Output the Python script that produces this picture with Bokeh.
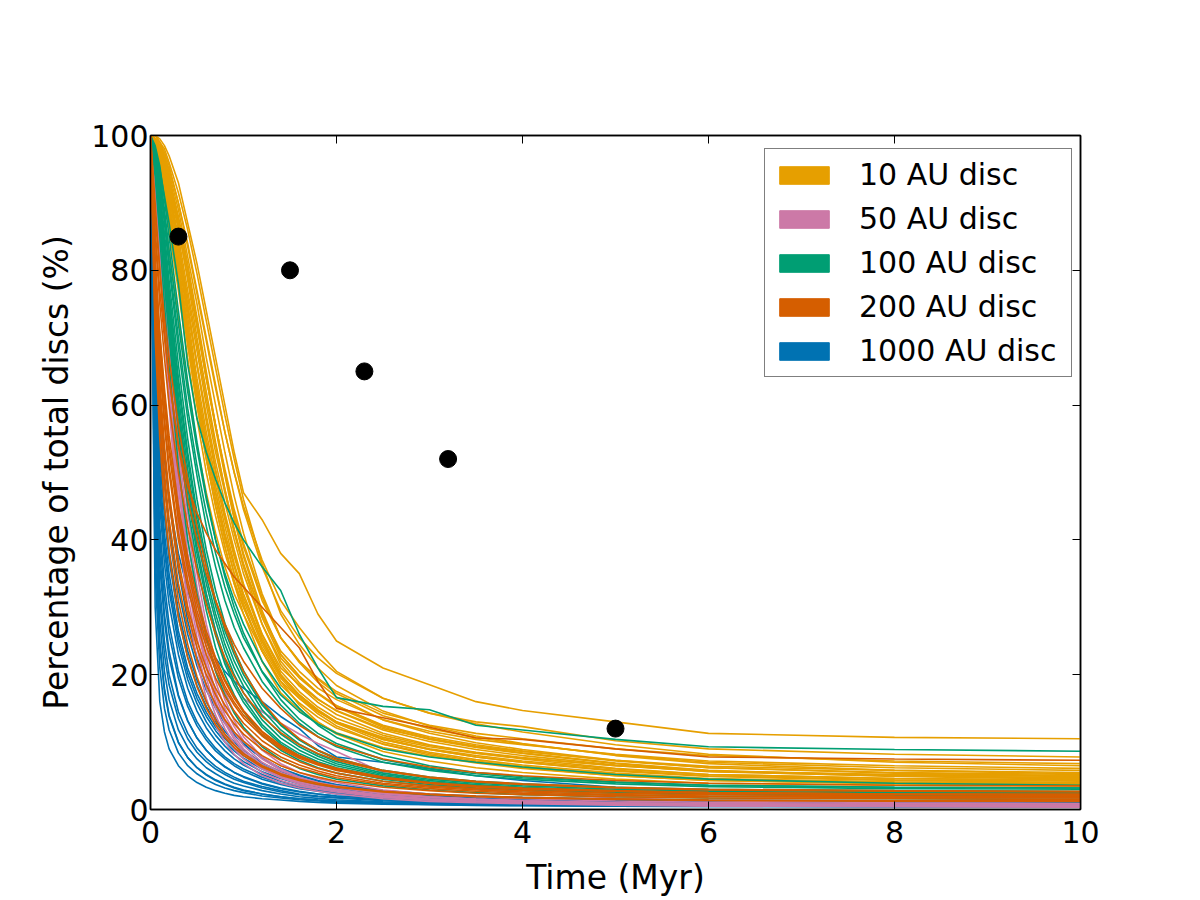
from bokeh.plotting import figure
from bokeh.models import Range1d, LinearAxis, FixedTicker, Legend, LegendItem, CustomJSTickFormatter
from bokeh.embed import file_html
from bokeh.resources import INLINE

FONT = "DejaVu Sans"

# Time grid (Myr) shared by every curve
TIME = [0, 0.05, 0.1, 0.15, 0.2, 0.3, 0.4, 0.5, 0.6, 0.7, 0.8, 0.9, 1.0,
        1.2, 1.4, 1.6, 1.8, 2.0, 2.5, 3.0, 3.5, 4.0, 5.0, 6.0, 8.0, 10.0]

# Percentage of discs remaining, one row per simulation
DISC_10AU = [
    [100, 100, 99.5, 98.5, 97, 93, 87, 81, 74, 67, 60, 53, 47, 43, 38, 35, 29, 25, 21, 18.5, 16, 14.7, 13, 11.3, 10.7, 10.5],
    [100, 100, 99, 97, 95, 90, 84, 77, 70, 63, 56, 50, 45, 37, 31, 27, 23.5, 20.5, 16.5, 14.3, 13, 12.3, 10.2, 9, 8.2, 7.8],
    [100, 99, 98, 96, 93, 87, 80, 72, 64, 57, 50, 44, 39, 31, 25.5, 22, 19.5, 17.5, 14.3, 12.5, 11.3, 10.5, 9, 8, 7.2, 6.8],
    [100, 99.5, 98, 95, 91, 84, 76, 68, 60, 53, 47, 41, 36, 29, 23.5, 20.5, 18, 16.3, 13.3, 11.6, 10.4, 9.6, 8.2, 7.2, 6.5, 6.1],
    [100, 99, 97, 94, 90, 82, 73, 64, 56, 49, 43, 37.5, 33, 26, 21, 18.5, 16.3, 14.7, 12, 10.5, 9.4, 8.6, 7.3, 6.4, 5.8, 5.5],
    [100, 99, 97.5, 95, 92, 85, 77, 69, 61, 54, 47.5, 41.5, 36.5, 28.5, 22.5, 19.5, 17.2, 15.4, 12.5, 10.8, 9.6, 8.7, 7.2, 6.2, 5.5, 5.2],
    [100, 98.5, 96, 92, 87, 78, 69, 60, 52, 45, 39, 34, 30, 23.5, 19, 16.5, 14.5, 13, 10.7, 9.3, 8.3, 7.6, 6.5, 5.7, 5.1, 4.9],
    [100, 99.5, 98.5, 96.5, 94, 88, 81, 73, 65, 57, 50, 43.5, 38, 29.5, 23, 19.8, 17.2, 15.2, 12.2, 10.4, 9.2, 8.3, 6.8, 5.7, 4.9, 4.5],
    [100, 99, 96.5, 93, 89, 80, 71, 62, 54, 47, 41, 36, 31.5, 25, 20, 17, 14.8, 13, 10.4, 8.9, 7.8, 7, 5.8, 5, 4.4, 4.2],
    [100, 99, 97, 93.5, 89, 80, 71, 62, 54, 47, 40.5, 35, 30.5, 23.5, 18.5, 15.8, 13.7, 12.1, 9.7, 8.3, 7.2, 6.4, 5.2, 4.5, 4, 3.8],
    [100, 99.5, 98, 95.5, 92, 84, 75, 66, 57.5, 50, 43.5, 38, 33, 25.5, 20, 17, 14.7, 13, 10.4, 8.9, 7.8, 7, 5.7, 4.9, 4.3, 4.0],
    [100, 98.5, 96, 92, 88, 79, 70, 61, 53, 46, 40, 35, 31, 24.5, 19.8, 16.8, 14.6, 12.9, 10.5, 9, 8, 7.2, 6, 5.2, 4.6, 4.4],
    [100, 99.5, 98.5, 97, 94.5, 89, 82, 75, 67, 60, 53, 46.5, 41, 32, 25.5, 21.8, 18.9, 16.7, 13.3, 11.3, 9.9, 8.9, 7.3, 6.2, 5.4, 5.0],
    [100, 99, 97, 93.5, 89.5, 81, 72, 63, 55, 48, 42, 36.5, 32, 25, 20, 17, 14.6, 12.8, 10, 8.5, 7.4, 6.6, 5.4, 4.6, 4.1, 3.9],
    [100, 99.5, 98, 95.5, 92.5, 86, 79, 71.5, 64, 57, 50.5, 44.5, 39.5, 31.5, 25.5, 22, 19.3, 17.2, 13.9, 12, 10.7, 9.7, 8.1, 7, 6.2, 5.8],
    [100, 98, 95, 91, 86, 77, 67, 58, 50, 43.5, 38, 33.5, 30, 24, 19.5, 16.5, 14.2, 12.4, 9.7, 8.1, 7, 6.2, 5, 4.3, 3.8, 3.6],
    [100, 99, 97, 94, 90, 82, 74, 66, 58.5, 51.5, 45.5, 40, 35, 27.5, 22, 18.8, 16.4, 14.6, 11.8, 10.1, 8.9, 8, 6.6, 5.6, 5, 4.7],
    [100, 100, 99, 98, 96, 91.5, 86, 79.5, 72.5, 65.5, 58.5, 52, 46, 36.5, 29, 24.5, 21, 18.4, 14.6, 12.4, 10.9, 9.8, 8, 6.8, 5.8, 5.3],
    [100, 99, 96.5, 92.5, 88, 78.5, 69, 60, 52, 45, 39, 33.5, 29, 22, 17.3, 14.8, 12.9, 11.4, 9.2, 7.9, 6.9, 6.1, 5, 4.3, 3.9, 3.7],
    [100, 99.5, 98.5, 96, 93, 86.5, 78.5, 70, 62, 54.5, 47.5, 41.5, 36, 27.5, 21.5, 18.3, 15.9, 14.1, 11.3, 9.6, 8.4, 7.5, 6.1, 5.2, 4.6, 4.3],
    [100, 99.5, 99, 97.5, 95.5, 90, 83.5, 76.5, 69.5, 62.5, 56, 50, 44.5, 36, 29.5, 25.5, 22.5, 20.2, 16.5, 14.3, 12.7, 11.5, 9.6, 8.2, 7, 6.5],
    [100, 97, 93, 88, 83, 73, 63, 54, 47, 41, 36, 32, 29, 23.5, 19, 15.5, 13, 11.2, 8.6, 7.2, 6.2, 5.5, 4.5, 3.9, 3.6, 3.5],
    [100, 99, 97.5, 95, 91, 83, 74.5, 66, 58, 50.5, 44, 38.5, 33.5, 26, 20.5, 17.5, 15.2, 13.5, 11, 9.5, 8.5, 7.7, 6.5, 5.7, 5.2, 5.0],
    [100, 99.5, 98.5, 96.5, 93.5, 87.5, 80, 72, 64, 56.5, 49.5, 43, 37.5, 29, 23, 19.8, 17.3, 15.4, 12.4, 10.6, 9.3, 8.4, 6.9, 5.8, 5, 4.6],
]

DISC_50AU = [
    [100, 95, 87, 78, 68, 50, 38, 29, 22.5, 17.5, 14, 11.5, 9.5, 7, 5.5, 4.5, 3.8, 3.3, 2.3, 1.8, 1.5, 1.3, 1.0, 0.85, 0.7, 0.65],
    [100, 93, 84, 73, 62, 44, 32, 24, 18, 14, 11, 9, 7.5, 5.5, 4.3, 3.5, 3, 2.6, 1.8, 1.4, 1.15, 1.0, 0.75, 0.6, 0.5, 0.45],
    [100, 96, 90, 82, 73, 56, 44, 35, 27.5, 22, 17.5, 14.5, 12, 8.8, 6.8, 5.5, 4.6, 4, 2.9, 2.3, 1.9, 1.6, 1.25, 1.05, 0.9, 0.85],
    [100, 94, 86, 76, 66, 48, 36, 27, 21, 16, 12.8, 10.4, 8.6, 6.3, 4.9, 4, 3.4, 2.9, 2.0, 1.5, 1.2, 1.0, 0.75, 0.6, 0.5, 0.45],
    [100, 95.5, 88, 79.5, 70, 52.5, 40, 31, 24, 19, 15, 12.3, 10.2, 7.5, 5.8, 4.7, 4, 3.5, 2.5, 1.9, 1.55, 1.3, 1.0, 0.85, 0.7, 0.65],
    [100, 96, 91, 84, 76, 60, 48, 39, 32, 26.5, 22, 19, 16.5, 14.5, 12.8, 11.2, 9.8, 8.6, 5.5, 4.0, 3.0, 2.4, 1.7, 1.3, 1.0, 0.9],
    [100, 92, 82, 71, 60, 42, 30, 22, 16.5, 12.5, 10, 8.2, 6.8, 5, 3.9, 3.2, 2.7, 2.3, 1.6, 1.2, 1.0, 0.85, 0.65, 0.5, 0.4, 0.35],
    [100, 94.5, 87, 77, 67, 49, 37, 28, 21.5, 16.8, 13.3, 10.8, 9, 6.6, 5.1, 4.1, 3.5, 3, 2.1, 1.6, 1.3, 1.1, 0.85, 0.7, 0.55, 0.5],
    [100, 95, 88.5, 80.5, 71.5, 54, 42, 33, 26, 20.5, 16.3, 13.2, 10.8, 7.8, 6, 4.8, 4, 3.4, 2.4, 1.85, 1.5, 1.25, 0.95, 0.8, 0.65, 0.6],
    [100, 93.5, 85, 74.5, 64, 46, 34, 25.5, 19.5, 15, 12, 9.8, 8.1, 6, 4.7, 3.8, 3.2, 2.8, 1.9, 1.45, 1.2, 1.0, 0.8, 0.65, 0.55, 0.5],
]

DISC_100AU = [
    [100, 98, 95, 91, 87, 78, 66, 58, 53, 49, 45.5, 42.5, 40, 36, 32.5, 26, 21, 16.6, 15.3, 14.8, 12.5, 11.8, 10.4, 9.3, 8.9, 8.65],
    [100, 97, 91, 84, 77, 64, 53, 44, 37, 31, 26.5, 23, 20, 15.5, 12.5, 10.3, 8.7, 7.5, 5.7, 4.7, 4.1, 3.7, 3.2, 2.9, 2.6, 2.5],
    [100, 98, 94.5, 89, 83, 72, 62, 53.5, 46, 40, 35, 31, 27.5, 22, 18, 15, 12.5, 10.7, 8, 6.5, 5.5, 4.9, 4.1, 3.6, 3.3, 3.2],
    [100, 95, 87, 78, 70, 56, 45, 36.5, 29.5, 24, 20, 17, 14.5, 11, 8.8, 7.3, 6.2, 5.4, 4.2, 3.5, 3.1, 2.8, 2.4, 2.2, 2, 1.9],
    [100, 96.5, 90, 82.5, 75, 61.5, 50.5, 41.5, 34.5, 29, 24.5, 21, 18.3, 14, 11.2, 9.3, 7.9, 6.8, 5.2, 4.3, 3.7, 3.3, 2.8, 2.5, 2.3, 2.2],
    [100, 97.5, 93, 87, 80.5, 68.5, 58, 49.5, 42, 36, 31, 27, 24, 19, 15.5, 12.8, 10.8, 9.3, 7, 5.8, 5, 4.5, 3.8, 3.4, 3.1, 3],
    [100, 96, 89, 81, 73, 59, 48, 39, 32, 26.5, 22.3, 19, 16.5, 12.6, 10, 8.3, 7.1, 6.2, 4.8, 4, 3.5, 3.1, 2.7, 2.4, 2.2, 2.1],
    [100, 94, 85, 75, 66, 51, 40, 32, 25.5, 20.5, 17, 14.3, 12.2, 9.3, 7.4, 6.1, 5.2, 4.5, 3.5, 2.9, 2.5, 2.2, 1.9, 1.7, 1.6, 1.5],
    [100, 98, 94, 88, 81.5, 70, 59.5, 51, 44, 38, 33, 29, 25.5, 20.5, 17, 14.5, 12.7, 11.3, 9, 7.8, 7, 6.3, 5.2, 4.5, 3.9, 3.6],
    [100, 96.5, 90.5, 83.5, 76, 63, 52, 43, 36, 30.2, 25.6, 22, 19.2, 14.8, 11.8, 9.7, 8.2, 7.1, 5.4, 4.5, 3.9, 3.5, 3, 2.7, 2.5, 2.4],
    [100, 97, 92, 85.5, 78.5, 66, 55, 46, 38.5, 32.5, 27.6, 23.7, 20.6, 15.8, 12.6, 10.4, 8.8, 7.6, 5.8, 4.8, 4.2, 3.8, 3.3, 3, 2.8, 2.7],
    [100, 95.5, 88, 79.5, 71.5, 57.5, 46.5, 38, 31, 25.8, 21.6, 18.4, 15.9, 12.2, 9.7, 8, 6.8, 5.9, 4.5, 3.7, 3.2, 2.9, 2.5, 2.3, 2.1, 2],
    [100, 98.5, 95.5, 90.5, 85, 74, 63.5, 54.5, 46.5, 40, 34.5, 30, 26.2, 20.4, 16.3, 13.4, 11.3, 9.8, 7.4, 6.1, 5.3, 4.7, 4, 3.6, 3.3, 3.2],
    [100, 96, 89.5, 81.5, 74, 60, 49, 40.5, 33.5, 28, 23.5, 20, 17.3, 13.3, 10.6, 8.8, 7.5, 6.5, 5, 4.1, 3.6, 3.2, 2.8, 2.5, 2.3, 2.2],
]

DISC_200AU = [
    [100, 90, 80, 71, 64, 54, 48, 44, 41, 38.5, 36.5, 34.5, 33, 30, 27, 24, 19, 15, 13.6, 12.2, 10.6, 10.4, 9, 7.8, 7.5, 7.3],
    [100, 78, 66, 57, 50, 40, 33, 27.5, 23, 19.5, 16.8, 14.6, 12.8, 10.2, 8.4, 7.1, 6.1, 5.4, 4.2, 3.5, 3.1, 2.8, 2.4, 2.2, 2, 1.9],
    [100, 85, 75, 67, 60, 50, 42, 35.5, 30.5, 26, 22.5, 19.7, 17.3, 13.8, 11.4, 9.6, 8.3, 7.3, 5.7, 4.7, 4.1, 3.7, 3.2, 2.9, 2.7, 2.6],
    [100, 72, 58, 48, 41, 31, 24.5, 19.7, 16, 13.3, 11.2, 9.6, 8.3, 6.5, 5.3, 4.5, 3.9, 3.4, 2.7, 2.3, 2, 1.8, 1.6, 1.4, 1.3, 1.3],
    [100, 80, 69, 60, 53, 43, 35.5, 29.5, 25, 21.3, 18.3, 15.9, 14, 11.2, 9.2, 7.8, 6.8, 6, 4.7, 3.9, 3.4, 3.1, 2.7, 2.5, 2.3, 2.2],
    [100, 88, 80, 73, 67, 57, 49, 42, 36, 31, 27, 23.5, 20.5, 16, 12.8, 10.5, 8.8, 7.6, 5.8, 4.8, 4.2, 3.8, 3.3, 3, 2.8, 2.7],
    [100, 75, 62, 52.5, 45.5, 36, 29, 24, 20, 17, 14.6, 12.7, 11.2, 8.9, 7.3, 6.2, 5.4, 4.7, 3.7, 3.1, 2.7, 2.4, 2.1, 1.9, 1.8, 1.7],
    [100, 82, 71, 62.5, 55.5, 45, 37.5, 31.5, 26.5, 22.5, 19.3, 16.8, 14.7, 11.6, 9.5, 8, 6.9, 6.1, 4.8, 4, 3.5, 3.2, 2.8, 2.5, 2.3, 2.2],
    [100, 70, 55, 45, 38, 28.5, 22.5, 18.2, 15, 12.6, 10.7, 9.2, 8, 6.3, 5.1, 4.3, 3.7, 3.3, 2.6, 2.2, 1.9, 1.7, 1.5, 1.35, 1.25, 1.2],
    [100, 79, 67, 58, 51, 41, 34, 28.5, 24.2, 20.7, 17.8, 15.5, 13.6, 10.9, 9, 7.6, 6.6, 5.8, 4.6, 3.9, 3.4, 3.1, 2.7, 2.5, 2.3, 2.3],
    [100, 86, 77, 70, 64, 54, 46, 40, 35, 31, 27.5, 24.5, 22, 18, 15, 12.5, 10.8, 9.5, 7.5, 6.3, 5.5, 5, 4.3, 3.9, 3.6, 3.5],
    [100, 76, 63.5, 54, 47, 37, 30, 25, 21, 18, 15.5, 13.5, 11.9, 9.5, 7.8, 6.6, 5.7, 5, 3.9, 3.3, 2.9, 2.6, 2.2, 2, 1.9, 1.8],
    [100, 81, 70, 61.5, 54, 44, 36.5, 30.5, 25.8, 22, 19, 16.5, 14.5, 11.5, 9.4, 7.9, 6.8, 6, 4.7, 3.9, 3.4, 3.1, 2.7, 2.4, 2.2, 2.1],
    [100, 74, 60, 50, 43, 33.5, 27, 22.2, 18.5, 15.6, 13.3, 11.5, 10.1, 8, 6.5, 5.5, 4.8, 4.2, 3.3, 2.8, 2.4, 2.2, 1.9, 1.7, 1.6, 1.5],
]

DISC_1000AU = [
    [100, 30, 16, 11.5, 9, 6.5, 5, 4, 3.3, 2.8, 2.4, 2.1, 1.9, 1.6, 1.4, 1.2, 1.05, 0.95, 0.8, 0.7, 0.6, 0.55, 0.5, 0.45, 0.4, 0.4],
    [100, 42, 25, 18, 14, 10, 7.7, 6.2, 5.1, 4.3, 3.7, 3.2, 2.8, 2.3, 1.9, 1.6, 1.4, 1.25, 1, 0.85, 0.75, 0.7, 0.6, 0.55, 0.5, 0.5],
    [100, 55, 38, 29, 23.5, 17, 13.2, 10.6, 8.8, 7.4, 6.3, 5.5, 4.8, 3.8, 3.1, 2.6, 2.3, 2, 1.6, 1.3, 1.15, 1.05, 0.9, 0.8, 0.75, 0.7],
    [100, 62, 47, 38.5, 32.5, 24.5, 19.3, 15.7, 13, 11, 9.4, 8.1, 7.1, 5.6, 4.6, 3.8, 3.3, 2.9, 2.2, 1.8, 1.6, 1.45, 1.25, 1.1, 1, 0.95],
    [100, 68, 54, 45, 38.5, 29.5, 23.5, 19.2, 16, 13.5, 11.6, 10, 8.8, 6.9, 5.6, 4.7, 4, 3.5, 2.7, 2.2, 1.9, 1.7, 1.45, 1.3, 1.2, 1.15],
    [100, 58, 42, 33.5, 27.5, 20.5, 16, 13, 10.8, 9.1, 7.8, 6.8, 6, 4.8, 3.9, 3.3, 2.8, 2.5, 1.9, 1.6, 1.4, 1.25, 1.1, 1, 0.9, 0.85],
    [100, 72, 60, 52, 46, 38, 32.5, 28.5, 25, 22.5, 20.5, 19, 18, 16, 13.8, 12, 9.5, 7.8, 7, 6, 5, 4.3, 3.3, 2.7, 2, 1.8],
    [100, 50, 33, 25, 20, 14.5, 11.3, 9.1, 7.6, 6.4, 5.5, 4.8, 4.2, 3.4, 2.8, 2.3, 2, 1.8, 1.4, 1.15, 1, 0.9, 0.8, 0.7, 0.65, 0.6],
    [100, 65, 50, 41, 35, 26.5, 21, 17.2, 14.4, 12.2, 10.5, 9.1, 8, 6.3, 5.1, 4.3, 3.7, 3.2, 2.5, 2, 1.75, 1.55, 1.35, 1.2, 1.1, 1.05],
    [100, 35, 21, 15, 11.8, 8.4, 6.5, 5.3, 4.4, 3.7, 3.2, 2.8, 2.5, 2, 1.7, 1.45, 1.25, 1.1, 0.9, 0.75, 0.65, 0.6, 0.5, 0.45, 0.4, 0.4],
    [100, 60, 45, 36.5, 30.5, 23, 18, 14.6, 12.1, 10.2, 8.7, 7.5, 6.6, 5.2, 4.2, 3.5, 3, 2.6, 2, 1.65, 1.45, 1.3, 1.1, 1, 0.9, 0.85],
    [100, 75, 62, 53, 46, 35.5, 28, 22.5, 18.5, 15.5, 13.2, 11.3, 9.8, 7.6, 6.1, 5, 4.2, 3.6, 2.7, 2.2, 1.9, 1.7, 1.45, 1.3, 1.2, 1.15],
    [100, 48, 31, 23, 18.5, 13.5, 10.5, 8.5, 7.1, 6, 5.2, 4.5, 4, 3.2, 2.6, 2.2, 1.9, 1.7, 1.3, 1.1, 0.95, 0.85, 0.75, 0.65, 0.6, 0.6],
    [100, 63, 48, 39.5, 33.5, 25.5, 20.2, 16.5, 13.8, 11.7, 10, 8.7, 7.6, 6, 4.9, 4.1, 3.5, 3, 2.3, 1.9, 1.65, 1.5, 1.3, 1.15, 1.05, 1],
    [100, 56, 40, 31.5, 26, 19.5, 15.3, 12.4, 10.3, 8.7, 7.5, 6.5, 5.7, 4.5, 3.7, 3.1, 2.7, 2.3, 1.8, 1.5, 1.3, 1.2, 1.05, 0.95, 0.9, 0.85],
    [100, 70, 57, 48.5, 42, 32.5, 26, 21.3, 17.7, 15, 12.8, 11.1, 9.7, 7.6, 6.1, 5.1, 4.3, 3.7, 2.8, 2.3, 2, 1.8, 1.55, 1.4, 1.3, 1.25],
    [100, 38, 24, 17.5, 13.8, 9.9, 7.7, 6.2, 5.2, 4.4, 3.8, 3.3, 2.9, 2.3, 1.9, 1.6, 1.4, 1.25, 1, 0.85, 0.75, 0.7, 0.6, 0.55, 0.5, 0.5],
    [100, 52, 36, 28, 22.5, 16.8, 13.1, 10.6, 8.8, 7.4, 6.4, 5.5, 4.9, 3.9, 3.2, 2.7, 2.3, 2, 1.6, 1.3, 1.15, 1.05, 0.9, 0.8, 0.75, 0.7],
    [100, 66, 52, 43.5, 37, 28.5, 22.6, 18.4, 15.3, 13, 11.1, 9.6, 8.4, 6.6, 5.3, 4.4, 3.8, 3.3, 2.5, 2.05, 1.8, 1.6, 1.35, 1.2, 1.1, 1.05],
    [100, 45, 28, 20.5, 16.3, 11.8, 9.2, 7.5, 6.2, 5.3, 4.5, 3.9, 3.5, 2.8, 2.3, 1.9, 1.65, 1.45, 1.15, 0.95, 0.85, 0.75, 0.65, 0.6, 0.55, 0.5],
]

SERIES_LABELS = ["10 AU disc", "50 AU disc", "100 AU disc", "200 AU disc", "1000 AU disc"]
SERIES_COLORS = ["#E69F00", "#CC79A7", "#009E73", "#D55E00", "#0072B2"]
SERIES_DATA = [DISC_10AU, DISC_50AU, DISC_100AU, DISC_200AU, DISC_1000AU]
DRAW_ORDER = [0, 4, 1, 2, 3]

# Observed disc fractions (black points)
OBS_TIME = [0.3, 1.5, 2.3, 3.2, 5.0]
OBS_PCT = [85, 80, 65, 52, 12]

X_TICKS = [0, 2, 4, 6, 8, 10]
Y_TICKS = [0, 20, 40, 60, 80, 100]

p = figure(width=1200, height=900,
           x_range=Range1d(0, 10), y_range=Range1d(0, 100),
           output_backend="svg", toolbar_location=None,
           min_border_left=150, min_border_right=120,
           min_border_top=135, min_border_bottom=91,
           x_axis_label="Time (Myr)", y_axis_label="Percentage of total discs (%)")
p.grid.visible = False
p.background_fill_color = "white"
p.border_fill_color = "white"
p.outline_line_color = "black"
p.outline_line_width = 1.5


def style_axis(ax, ticks):
    ax.ticker = FixedTicker(ticks=ticks)
    ax.major_tick_in = 8
    ax.major_tick_out = 0
    ax.minor_tick_in = 0
    ax.minor_tick_out = 0
    ax.major_tick_line_color = "black"
    ax.major_tick_line_width = 1
    ax.axis_line_color = "black"
    ax.axis_line_width = 1.5
    ax.major_label_text_font = FONT
    ax.major_label_text_font_size = "30px"
    ax.major_label_text_color = "black"
    ax.axis_label_text_font = FONT
    ax.axis_label_text_font_size = "33px"
    ax.axis_label_text_font_style = "normal"
    ax.axis_label_text_color = "black"


style_axis(p.xaxis[0], X_TICKS)
style_axis(p.yaxis[0], Y_TICKS)
p.xaxis[0].major_label_standoff = 11
p.xaxis[0].axis_label_standoff = 12
p.yaxis[0].major_label_standoff = 2
p.yaxis[0].axis_label_standoff = 12

right_ax = LinearAxis()
style_axis(right_ax, Y_TICKS)
right_ax.formatter = CustomJSTickFormatter(code="return ''")
right_ax.major_label_standoff = 0
p.add_layout(right_ax, "right")
top_ax = LinearAxis()
style_axis(top_ax, X_TICKS)
top_ax.formatter = CustomJSTickFormatter(code="return ''")
top_ax.major_label_standoff = 0
p.add_layout(top_ax, "above")

for i in DRAW_ORDER:
    rows = SERIES_DATA[i]
    p.multi_line(xs=[TIME] * len(rows), ys=rows, line_color=SERIES_COLORS[i], line_width=1.6)

p.scatter(OBS_TIME, OBS_PCT, size=17, color="black")

# Legend swatches: one off-screen rectangle per series (clipped out of the frame)
items = []
for label, color in zip(SERIES_LABELS, SERIES_COLORS):
    r = p.quad(left=[20], right=[21], top=[300], bottom=[200], fill_color=color, line_color=color)
    items.append(LegendItem(label=label, renderers=[r]))

legend = Legend(items=items, location=(614, 432), margin=0,
                border_line_color="black", border_line_width=1.5,
                background_fill_color="white", background_fill_alpha=1.0,
                label_text_font=FONT, label_text_font_size="30px", label_text_color="black",
                glyph_width=62, glyph_height=22, label_standoff=24,
                padding=8, spacing=9, label_width=204)
p.add_layout(legend)

open("out.html", "w").write(file_html(p, INLINE))
